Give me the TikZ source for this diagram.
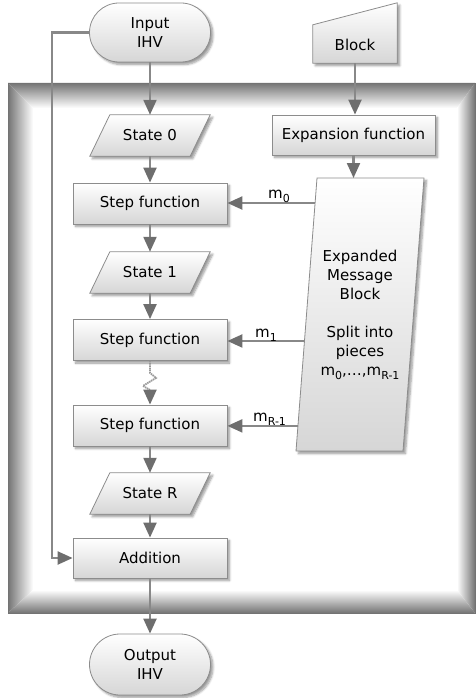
\documentclass[tikz,border=0pt]{standalone}
\usepackage{fontspec}
\setmainfont{DejaVu Sans}
\usetikzlibrary{shapes.geometric,shadows.blur,arrows.meta,calc}
\definecolor{edgec}{HTML}{8C8C8C}
\definecolor{linec}{HTML}{888888}
\definecolor{tipc}{HTML}{6E6E6E}
\definecolor{fillb}{HTML}{D6D6D6}
\definecolor{framec}{HTML}{747474}
\newcommand\msub[1]{m\raisebox{-4.5pt}{\fontsize{11}{11}\selectfont #1}}
\begin{document}
\begin{tikzpicture}[x=1pt,y=-1pt,
  font=\fontsize{15}{19}\selectfont,
  boxbase/.style={draw=edgec, line width=0.8pt, top color=white, bottom color=fillb,
    blur shadow={shadow xshift=2.5pt, shadow yshift=-2.5pt, shadow blur steps=6, shadow opacity=40}},
  procbox/.style={boxbase, rectangle, inner sep=0pt, minimum width=154pt, minimum height=41pt},
  termbox/.style={boxbase, rectangle, inner sep=0pt, rounded corners=29.5pt, minimum width=121pt, minimum height=59pt, align=center},
  databox/.style={rectangle, inner sep=0pt, minimum width=100pt, minimum height=41pt},
  arr/.style={draw=linec, line width=2.2pt, -{Triangle[length=15pt,width=13pt,color=tipc]}},
  zig/.style={draw=black!40, line width=1.8pt, dash pattern=on 1.5pt off 0.7pt},
  lbl/.style={inner sep=0pt, anchor=base west},
  txt/.style={inner sep=0pt, align=center}
]
\useasboundingbox (0,0) rectangle (475,698);

% ---- bevelled frame ----
\shade[top color=framec, bottom color=white] (8,83) -- (475,83) -- (457,108) -- (33,108) -- cycle;
\shade[left color=framec, right color=white] (8,83) -- (33,108) -- (33,590) -- (8,613) -- cycle;
\shade[left color=white, right color=framec] (475,83) -- (475,613) -- (457,590) -- (457,108) -- cycle;
\shade[top color=white, bottom color=framec] (8,613) -- (475,613) -- (457,590) -- (33,590) -- cycle;
\draw[black!55, line width=0.8pt] (8,83) rectangle (475,613);

% ---- left column ----
\node[termbox] (in) at (150,32.5) {Input\\IHV};

\newcommand\paranode[3]{%
  \node[databox] (#1) at (#2) {};
  \path[boxbase] ($(#1.north west)+(10,0)$) -- ($(#1.north east)+(10,0)$)
     -- ($(#1.south east)+(-10,0)$) -- ($(#1.south west)+(-10,0)$) -- cycle;
  \node[txt] at (#1.center) {#3};}

\paranode{s0}{150,135.5}{State 0}
\node[procbox] (f1) at (150,203.5) {Step function};
\paranode{s1}{150,272.5}{State 1}
\node[procbox] (f2) at (150,340) {Step function};
\node[procbox] (f3) at (150,425.5) {Step function};
\paranode{sr}{150,493.5}{State R}
\node[procbox, minimum height=40pt] (add) at (150,558) {Addition};
\node[termbox, minimum height=61pt, rounded corners=30.5pt] (out) at (150,664.5) {Output\\IHV};

% ---- right column ----
\node[minimum width=84pt, minimum height=60pt, inner sep=0pt] (blk) at (355,33) {};
\path[boxbase] ($(blk.north west)+(0,22)$) -- (blk.north east) -- (blk.south east) -- (blk.south west) -- cycle;
\node[txt] (blkt) at (355,45) {Block};

\node[procbox, minimum width=163pt, minimum height=40pt] (exp) at (353.5,135) {Expansion function};

\coordinate (etl) at (317,178);
\coordinate (etr) at (424,178);
\coordinate (ebr) at (403,451);
\coordinate (ebl) at (296,451);
\path[boxbase] (etl) -- (etr) -- (ebr) -- (ebl) -- cycle;
\node[txt] (emb) at (360,315) {Expanded\\Message\\Block\\[19pt]Split into\\pieces\\\msub{0},…,\msub{R-1}};

% ---- connectors ----
\draw[arr] (in.south) -- (s0.north);
\draw[arr] (s0.south) -- (f1.north);
\draw[arr] (f1.south) -- (s1.north);
\draw[arr] (s1.south) -- (f2.north);
\coordinate (z1) at ($(f2.south)+(0,12)$);
\coordinate (z2) at ($(z1)+(6,5)$);
\coordinate (z3) at ($(z2)+(-13,8)$);
\coordinate (z4) at ($(z3)+(7,4)$);
\draw[zig] (f2.south) -- (z1) -- (z2) -- (z3) -- (z4);
\draw[arr] (z4) -- (f3.north);
\draw[arr] (f3.south) -- (sr.north);
\draw[arr] (sr.south) -- (add.north);
\draw[arr] (add.south) -- (out.north);

\coordinate (lp) at (52,32.5);
\draw[arr] (in.west) -- (lp) |- (add.west);

\draw[arr] (blk.south) -- (blk.south |- exp.north);
\draw[arr] (exp.south) -- (exp.south |- etl);

\coordinate (e0) at ($(etl)!0.0916!(ebl)$);
\coordinate (e1) at ($(etl)!0.597!(ebl)$);
\coordinate (e2) at ($(etl)!0.908!(ebl)$);
\draw[arr] (e0) -- (e0 -| f1.east);
\draw[arr] (e1) -- (e1 -| f2.east);
\draw[arr] (e2) -- (e2 -| f3.east);
\node[lbl] (l0) at (268,198) {\msub{0}};
\node[lbl] (l1) at (255,337) {\msub{1}};
\node[lbl] (l2) at (253,421) {\msub{R-1}};
\end{tikzpicture}
\end{document}
